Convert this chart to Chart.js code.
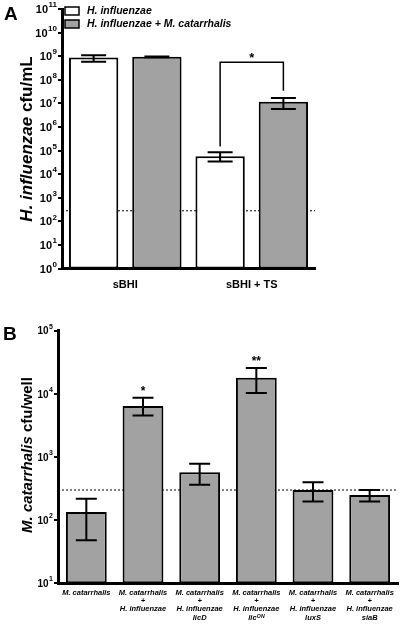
<!DOCTYPE html>
<html>
<head>
<meta charset="utf-8">
<script src="https://cdn.jsdelivr.net/npm/chart.js@4.4.0/dist/chart.umd.min.js"></script>
<style>
html, body { margin: 0; padding: 0; background: #fff; }
#wrapA { position: absolute; left: 0; top: 0; width: 400px; height: 300px; }
#wrapB { position: absolute; left: 0; top: 300px; width: 400px; height: 324px; }
</style>
</head>
<body>
<div id="wrapA"><canvas id="chartA" width="400" height="300"></canvas></div>
<div id="wrapB"><canvas id="chartB" width="400" height="324"></canvas></div>
<script>
// panel A data
const groupsA = ['sBHI', 'sBHI + TS'];
const hiMean = [8.9e8, 5.8e4];
const hiLow = [5.8e8, 3.4e4];
const hiHigh = [1.1e9, 8.4e4];
const coMean = [9.4e8, 1.17e7];
const coLow = [9.0e8, 5.7e6];
const coHigh = [9.8e8, 1.7e7];
const limitA = 280;
const powersA = [0, 1, 2, 3, 4, 5, 6, 7, 8, 9, 10, 11];
const bracketA = [1.5e5, 5.5e8, 3.4e7]; // left foot, top, right foot

// panel B data
const strainsB = [
    ['M. catarrhalis'],
    ['M. catarrhalis', '+', 'H. influenzae'],
    ['M. catarrhalis', '+', 'H. influenzae', 'licD'],
    ['M. catarrhalis', '+', 'H. influenzae', 'lic\u1D3C\u1D3A'],
    ['M. catarrhalis', '+', 'H. influenzae', 'luxS'],
    ['M. catarrhalis', '+', 'H. influenzae', 'siaB']
];
const mcMean = [134, 6400, 575, 18000, 299, 250];
const mcLow = [48, 4560, 363, 10350, 198, 198];
const mcHigh = [219, 8700, 780, 25700, 400, 299];
const marksB = ['', '*', '', '**', '', ''];
const limitB = 300;
const powersB = [1, 2, 3, 4, 5];

const FONT = "'Liberation Sans', Arial, sans-serif";
const GREY = '#a2a2a2';

// draws "10" with a raised exponent at each power tick
function powTicks(powers, baseSize, expSize) {
    return {
        id: 'powTicks',
        afterDraw(chart) {
            let ctx = chart.ctx;
            let y = chart.scales.y;
            let right = chart.chartArea.left - 5;
            ctx.save();
            ctx.fillStyle = '#000';
            ctx.textBaseline = 'middle';
            for (let p of powers) {
                let py = y.getPixelForValue(Math.pow(10, p));
                ctx.font = 'bold ' + expSize + 'px ' + FONT;
                let ew = ctx.measureText(String(p)).width;
                ctx.textAlign = 'left';
                ctx.fillText(String(p), right - ew, py - 4);
                ctx.font = 'bold ' + baseSize + 'px ' + FONT;
                ctx.textAlign = 'right';
                ctx.fillText('10', right - ew - 0.5, py + 1);
            }
            ctx.restore();
        }
    };
}

// rotated y title, first part italic
function yTitle(italicPart, plainPart, size, cx, cy) {
    return {
        id: 'yTitle',
        afterDraw(chart) {
            let ctx = chart.ctx;
            ctx.save();
            ctx.translate(cx, cy);
            ctx.rotate(-Math.PI / 2);
            ctx.fillStyle = '#000';
            ctx.textBaseline = 'middle';
            ctx.textAlign = 'left';
            ctx.font = 'italic bold ' + size + 'px ' + FONT;
            let w1 = ctx.measureText(italicPart).width;
            ctx.font = 'bold ' + size + 'px ' + FONT;
            let w2 = ctx.measureText(plainPart).width;
            let x0 = -(w1 + w2) / 2;
            ctx.font = 'italic bold ' + size + 'px ' + FONT;
            ctx.fillText(italicPart, x0, 0);
            ctx.font = 'bold ' + size + 'px ' + FONT;
            ctx.fillText(plainPart, x0 + w1, 0);
            ctx.restore();
        }
    };
}

function panelLetter(letter, x, y) {
    return {
        id: 'letter',
        afterDraw(chart) {
            let ctx = chart.ctx;
            ctx.save();
            ctx.fillStyle = '#000';
            ctx.font = 'bold 19px ' + FONT;
            ctx.textBaseline = 'middle';
            ctx.fillText(letter, x, y);
            ctx.restore();
        }
    };
}

function limitLine(value) {
    return {
        id: 'limitLine',
        beforeDatasetsDraw(chart) {
            let ctx = chart.ctx;
            let py = chart.scales.y.getPixelForValue(value);
            ctx.save();
            ctx.strokeStyle = '#000';
            ctx.lineWidth = 1;
            ctx.setLineDash([2, 2]);
            ctx.beginPath();
            ctx.moveTo(chart.chartArea.left, py);
            ctx.lineTo(chart.chartArea.right, py);
            ctx.stroke();
            ctx.restore();
        }
    };
}

const errorBars = {
    id: 'errorBars',
    afterDatasetsDraw(chart) {
        let ctx = chart.ctx;
        let y = chart.scales.y;
        ctx.save();
        ctx.strokeStyle = '#000';
        ctx.lineWidth = 2;
        chart.data.datasets.forEach((ds, i) => {
            let meta = chart.getDatasetMeta(i);
            meta.data.forEach((bar, j) => {
                let lo = y.getPixelForValue(ds.errLow[j]);
                let hi = y.getPixelForValue(ds.errHigh[j]);
                let c = ds.capHalf;
                ctx.beginPath();
                ctx.moveTo(bar.x, lo); ctx.lineTo(bar.x, hi);
                ctx.moveTo(bar.x - c, lo); ctx.lineTo(bar.x + c, lo);
                ctx.moveTo(bar.x - c, hi); ctx.lineTo(bar.x + c, hi);
                ctx.stroke();
            });
        });
        ctx.restore();
    }
};

const bracketPlugin = {
    id: 'bracket',
    afterDatasetsDraw(chart) {
        let ctx = chart.ctx;
        let y = chart.scales.y;
        let a = chart.getDatasetMeta(0).data[1];
        let b = chart.getDatasetMeta(1).data[1];
        let top = y.getPixelForValue(bracketA[1]);
        ctx.save();
        ctx.strokeStyle = '#000';
        ctx.lineWidth = 1.5;
        ctx.beginPath();
        ctx.moveTo(a.x, y.getPixelForValue(bracketA[0]));
        ctx.lineTo(a.x, top);
        ctx.lineTo(b.x, top);
        ctx.lineTo(b.x, y.getPixelForValue(bracketA[2]));
        ctx.stroke();
        ctx.fillStyle = '#000';
        ctx.font = 'bold 13px ' + FONT;
        ctx.textAlign = 'center';
        ctx.textBaseline = 'middle';
        ctx.fillText('*', (a.x + b.x) / 2, top - 4);
        ctx.restore();
    }
};

const legendA = {
    id: 'legendA',
    afterDraw(chart) {
        let ctx = chart.ctx;
        let items = [['H. influenzae', '#fff', 11], ['H. influenzae + M. catarrhalis', GREY, 24]];
        ctx.save();
        ctx.font = 'italic bold 10.5px ' + FONT;
        ctx.textBaseline = 'middle';
        for (let it of items) {
            ctx.fillStyle = it[1];
            ctx.fillRect(65, it[2] - 4, 14, 8);
            ctx.strokeStyle = '#000';
            ctx.lineWidth = 1.5;
            ctx.strokeRect(65, it[2] - 4, 14, 8);
            ctx.fillStyle = '#000';
            ctx.fillText(it[0], 87, it[2]);
        }
        ctx.restore();
    }
};

const starsB = {
    id: 'starsB',
    afterDatasetsDraw(chart) {
        let ctx = chart.ctx;
        let y = chart.scales.y;
        let meta = chart.getDatasetMeta(0);
        ctx.save();
        ctx.fillStyle = '#000';
        ctx.font = 'bold 12px ' + FONT;
        ctx.textAlign = 'center';
        ctx.textBaseline = 'middle';
        meta.data.forEach((bar, j) => {
            if (marksB[j]) ctx.fillText(marksB[j], bar.x, y.getPixelForValue(mcHigh[j]) - 6);
        });
        ctx.restore();
    }
};

Chart.defaults.font.family = FONT;
Chart.defaults.color = '#000';

new Chart(document.getElementById('chartA'), {
    type: 'bar',
    data: {
        labels: groupsA,
        datasets: [{
            data: hiMean, errLow: hiLow, errHigh: hiHigh, capHalf: 12.5,
            backgroundColor: '#fff', borderColor: '#000', borderWidth: 2, borderSkipped: false,
            categoryPercentage: 1.0, barPercentage: 0.78
        }, {
            data: coMean, errLow: coLow, errHigh: coHigh, capHalf: 12.5,
            backgroundColor: GREY, borderColor: '#000', borderWidth: 2, borderSkipped: false,
            categoryPercentage: 1.0, barPercentage: 0.78
        }]
    },
    options: {
        responsive: false,
        animation: false,
        layout: { padding: { top: 9, right: 85, left: 0, bottom: 0 } },
        plugins: { legend: { display: false }, tooltip: { enabled: false } },
        scales: {
            x: {
                grid: { display: false, drawTicks: false },
                border: { color: '#000', width: 3 },
                ticks: { font: { size: 11, weight: 'bold' }, padding: 10 },
                afterFit: (s) => { s.height = 31.5; }
            },
            y: {
                type: 'logarithmic',
                min: 1,
                max: 1e11,
                grid: { drawOnChartArea: false, drawTicks: true, tickLength: 4, color: '#000', lineWidth: 2 },
                border: { color: '#000', width: 3 },
                ticks: { display: false },
                afterBuildTicks: (s) => { s.ticks = powersA.map(p => ({ value: Math.pow(10, p) })); },
                afterFit: (s) => { s.width = 62; }
            }
        }
    },
    plugins: [limitLine(limitA), errorBars, bracketPlugin, legendA, powTicks(powersA, 11, 8),
        yTitle('H. influenzae', ' cfu/mL', 17, 27, 139), panelLetter('A', 4, 15)]
});

new Chart(document.getElementById('chartB'), {
    type: 'bar',
    data: {
        labels: strainsB,
        datasets: [{
            data: mcMean, errLow: mcLow, errHigh: mcHigh, capHalf: 10.5,
            backgroundColor: GREY, borderColor: '#000', borderWidth: 2, borderSkipped: false,
            categoryPercentage: 0.8, barPercentage: 0.9
        }]
    },
    options: {
        responsive: false,
        animation: false,
        layout: { padding: { top: 30.7, right: 2, left: 0, bottom: 0 } },
        plugins: { legend: { display: false }, tooltip: { enabled: false } },
        scales: {
            x: {
                grid: { display: false, drawTicks: false },
                border: { color: '#000', width: 3 },
                ticks: { font: { size: 7.5, weight: 'bold', style: 'italic', lineHeight: 1.12 }, padding: 5, maxRotation: 0, autoSkip: false },
                afterFit: (s) => { s.height = 40.7; }
            },
            y: {
                type: 'logarithmic',
                min: 10,
                max: 1e5,
                grid: { drawOnChartArea: false, drawTicks: true, tickLength: 4, color: '#000', lineWidth: 2 },
                border: { color: '#000', width: 3 },
                ticks: { display: false },
                afterBuildTicks: (s) => { s.ticks = powersB.map(p => ({ value: Math.pow(10, p) })); },
                afterFit: (s) => { s.width = 58; }
            }
        }
    },
    plugins: [limitLine(limitB), errorBars, starsB, powTicks(powersB, 10, 7),
        yTitle('M. catarrhalis', ' cfu/well', 15, 28, 155), panelLetter('B', 3, 35)]
});
</script>
</body>
</html>
